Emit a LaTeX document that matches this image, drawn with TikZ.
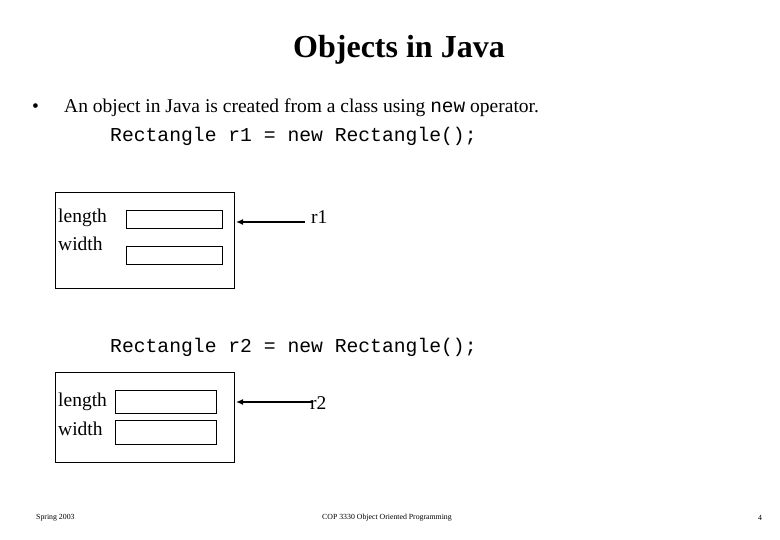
\documentclass[tikz,border=0pt]{standalone}
\usepackage{fontspec}
\setmainfont{Liberation Serif}
\setmonofont{Liberation Mono}
\usetikzlibrary{arrows.meta}
\begin{document}
\begin{tikzpicture}[x=1pt,y=-1pt,
  obj/.style={draw,line width=0.9pt},
  fld/.style={draw,line width=0.7pt},
  lbl/.style={anchor=west,inner sep=0pt,font=\fontsize{19.5}{22}\selectfont},
  code/.style={anchor=west,inner sep=0pt,font=\ttfamily\fontsize{19.7}{22}\selectfont},
  ptr/.style={-{Latex[length=7pt,width=6pt]},line width=1.4pt},
  foot/.style={inner sep=0pt,font=\fontsize{7.8}{9}\selectfont}]
\useasboundingbox (0,0) rectangle (780,540);
\node[inner sep=0pt,font=\bfseries\fontsize{32}{36}\selectfont] (title) at (399,50) {Objects in Java};
\node[lbl] (bul) at (32,108) {\textbullet};
\node[lbl] (t1) at (64,108) {An object in Java is created from a class using {\ttfamily new} operator.};
\node[code] (c1) at (110,136) {Rectangle r1 = new Rectangle();};
\draw[obj] (55,192) rectangle (234,288);
\node[lbl] (l1) at (58,218) {length};
\node[lbl] (w1) at (58,244) {width};
\draw[fld] (126,210) rectangle (222,228);
\draw[fld] (126,246) rectangle (222,264);
\coordinate (b1) at (236,222);
\node[lbl] (r1) at (311,217) {r1};
\draw[ptr] (305,222) -- (b1);
\node[code] (c2) at (110,347) {Rectangle r2 = new Rectangle();};
\draw[obj] (55,372) rectangle (234,462);
\node[lbl] (l2) at (58,402) {length};
\node[lbl] (w2) at (58,429) {width};
\draw[fld] (115,390) rectangle (216,413);
\draw[fld] (115,420) rectangle (216,444);
\coordinate (b2) at (236,402);
\node[lbl] (r2) at (310,403) {r2};
\draw[ptr] (312,402) -- (b2);
\node[foot,anchor=west] (f1) at (36,518) {Spring 2003};
\node[foot] (f2) at (387,518) {COP 3330 Object Oriented Programming};
\node[foot] (f3) at (760,518) {4};
\end{tikzpicture}
\end{document}
